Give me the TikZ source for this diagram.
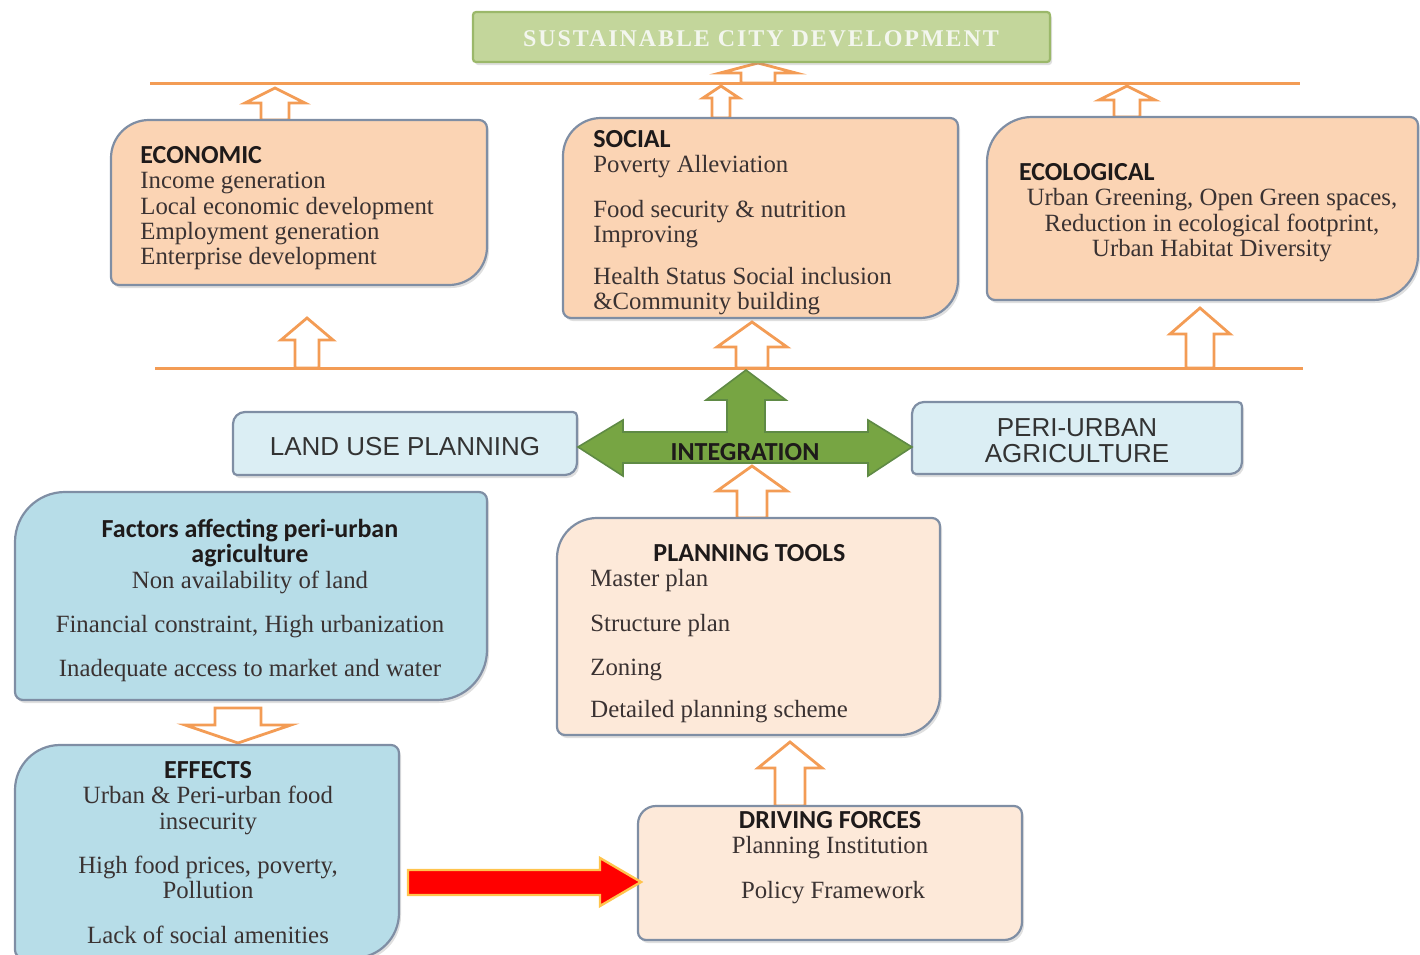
\documentclass[tikz,border=0pt]{standalone}
\usepackage{fontspec}
\setmainfont{Liberation Serif}
\newfontfamily\carlito{Carlito}
\newfontfamily\arialf{Liberation Sans}
\newfontfamily\titlef[LetterSpace=8]{Liberation Serif}
\usetikzlibrary{shadows,calc}

\definecolor{peach}{HTML}{FBD4B4}
\definecolor{lpeach}{HTML}{FDE9D9}
\definecolor{lblue}{HTML}{B7DDE8}
\definecolor{vlblue}{HTML}{DBEEF4}
\definecolor{bordc}{HTML}{7F8EA4}
\definecolor{orng}{HTML}{F39C55}
\definecolor{tgreen}{HTML}{C3D69B}
\definecolor{tgreenb}{HTML}{9BB86A}
\definecolor{agreen}{HTML}{77A543}
\definecolor{agreenb}{HTML}{5F8A45}
\definecolor{txt}{HTML}{3A3232}
\definecolor{htxt}{HTML}{1E1A1A}
\definecolor{ttxt}{HTML}{F3F6EE}
\definecolor{redarrow}{HTML}{FF0000}
\definecolor{glow}{HTML}{FFC44D}

\newcommand{\hdrfont}{\fontsize{13}{12.65}\selectfont\carlito\bfseries\color{htxt}}

% rounded box: x1 y1 x2 y2 R r style
\newcommand{\roundbox}[7]{%
  \path[#7] (#1,#2+#5) arc[start angle=180, end angle=90, radius=#5*0.5pt]
    -- (#3-#6,#2) arc[start angle=90, end angle=0, radius=#6*0.5pt]
    -- (#3,#4-#5) arc[start angle=0, end angle=-90, radius=#5*0.5pt]
    -- (#1+#6,#4) arc[start angle=270, end angle=180, radius=#6*0.5pt]
    -- cycle;}
% hollow up arrow: cx tip base headhalf shafthalf headlen
\newcommand{\uparr}[6]{%
  \path[hollow] (#1,#2) -- (#1+#4,#2+#6) -- (#1+#5,#2+#6) -- (#1+#5,#3)
    -- (#1-#5,#3) -- (#1-#5,#2+#6) -- (#1-#4,#2+#6) -- cycle;}
% hollow down arrow: cx tip base headhalf shafthalf headlen
\newcommand{\downarr}[6]{%
  \path[hollow] (#1,#2) -- (#1+#4,#2-#6) -- (#1+#5,#2-#6) -- (#1+#5,#3)
    -- (#1-#5,#3) -- (#1-#5,#2-#6) -- (#1-#4,#2-#6) -- cycle;}

\tikzset{
  box/.style={draw=bordc, line width=1.1pt,
    drop shadow={opacity=0.25, shadow xshift=1pt, shadow yshift=-1.5pt}},
  hollow/.style={draw=orng, line width=1.4pt, fill=white, line join=miter},
  hline/.style={draw=orng, line width=1.5pt},
  body/.style={font=\fontsize{12.4}{12.65}\selectfont, text=txt, inner sep=0pt},
  sanslabel/.style={font=\arialf\fontsize{13}{13}\selectfont, text=black!80, inner sep=0pt, align=center}
}

\begin{document}
\begin{tikzpicture}[x=0.5pt,y=-0.5pt]
\useasboundingbox (0,0) rectangle (1420,954);

% horizontal orange lines
\coordinate (l1a) at (150,83);  \coordinate (l1b) at (1300,83);
\coordinate (l2a) at (155,368); \coordinate (l2b) at (1303,368);
\draw[hline] (l1a) -- (l1b);
\draw[hline] (l2a) -- (l2b);

% hollow arrows
\uparr{758}{63}{83}{38}{17}{10}
\uparr{275}{88}{120}{30}{14}{15}
\uparr{721}{86}{118}{18}{9}{12}
\uparr{1127}{86}{117}{28}{13}{14}
\uparr{307}{318}{368}{26}{12}{22}
\uparr{752}{322}{368}{35}{16}{25}
\uparr{1200}{308}{368}{30}{14}{26}
\uparr{752}{466}{518}{35}{15}{25}
\uparr{790}{742}{806}{32}{15}{26}
\downarr{238}{743}{708}{53}{23}{18}

% title
\path[fill=tgreen, draw=tgreenb, line width=1.1pt, rounded corners=1.5pt,
  drop shadow={opacity=0.25, shadow xshift=1pt, shadow yshift=-1.5pt}] (473,12) rectangle (1050,62);
\node[inner sep=0pt, text=ttxt, font=\titlef\bfseries\fontsize{12}{12}\selectfont] (title) at (761,39) {SUSTAINABLE CITY DEVELOPMENT};

% boxes
\roundbox{111}{120}{487}{285}{38}{8}{box, fill=peach}
\roundbox{563}{118}{958}{318}{38}{8}{box, fill=peach}
\roundbox{987}{117}{1418}{300}{45}{8}{box, fill=peach}
\roundbox{233}{412}{577}{475}{12}{4}{box, fill=vlblue}
\roundbox{912}{402}{1242}{474}{12}{4}{box, fill=vlblue}
\roundbox{15}{492}{487}{700}{50}{8}{box, fill=lblue}
\roundbox{557}{518}{940}{735}{40}{8}{box, fill=lpeach}
\roundbox{15}{745}{399}{958}{45}{8}{box, fill=lblue}
\roundbox{638}{806}{1022}{940}{18}{8}{box, fill=lpeach}

% integration arrow
\path[fill=agreen, draw=agreenb, line width=0.8pt, line join=miter]
  (578,447) -- (623,420) -- (623,432) -- (727,432) -- (727,400) -- (706,400)
  -- (746,370) -- (786,400) -- (765,400) -- (765,432) -- (868,432) -- (868,420)
  -- (912,447) -- (868,476) -- (868,463) -- (623,463) -- (623,476) -- cycle;
\node[inner sep=0pt, font=\carlito\bfseries\fontsize{13}{13}\selectfont, text=htxt] (integ) at (745,452) {INTEGRATION};

% red arrow
\path[fill=redarrow, draw=glow, line width=1.2pt, line join=miter]
  (408,870) -- (600,870) -- (600,858) -- (641,882) -- (600,906) -- (600,895) -- (408,895) -- cycle;

% texts
\node[body, anchor=north west, align=left] (econ) at (140,146)
  {{\hdrfont ECONOMIC}\\Income generation\\Local economic development\\Employment generation\\Enterprise development};

\node[body, anchor=north west, align=left] (social) at (593,130)
  {{\hdrfont SOCIAL}\\Poverty Alleviation\\[9.5pt]Food security \& nutrition\\Improving\\[8.5pt]Health Status Social inclusion\\\&Community building};

\node[body, anchor=north, align=center] (eco) at (1212,163)
  {\makebox[193pt][l]{\hdrfont ECOLOGICAL}\\Urban Greening, Open Green spaces,\\Reduction in ecological footprint,\\Urban Habitat Diversity};

\node[sanslabel] (landuse) at (405,447) {LAND USE PLANNING};
\node[sanslabel] (periurban) at (1077,441) {PERI-URBAN\\AGRICULTURE};

\node[body, anchor=north, align=center] (factors) at (250,519)
  {{\hdrfont Factors affecting peri-urban}\\{\hdrfont agriculture}\\Non availability of land\\[9.5pt]Financial constraint, High urbanization\\[9.5pt]Inadequate access to market and water};

\node[body, anchor=north west, align=left] (tools) at (590,544)
  {\makebox[159pt][c]{\hdrfont PLANNING TOOLS}\\Master plan\\[9.5pt]Structure plan\\[9.5pt]Zoning\\[8.5pt]Detailed planning scheme};

\node[body, anchor=north, align=center] (effects) at (208,761)
  {{\hdrfont EFFECTS}\\Urban \& Peri-urban food\\insecurity\\[9.5pt]High food prices, poverty,\\Pollution\\[10pt]Lack of social amenities};

\node[body, anchor=north, align=center] (driving) at (830,811)
  {{\hdrfont DRIVING FORCES}\\Planning Institution\\[9.5pt]\hspace{3pt}Policy Framework};
\end{tikzpicture}
\end{document}
